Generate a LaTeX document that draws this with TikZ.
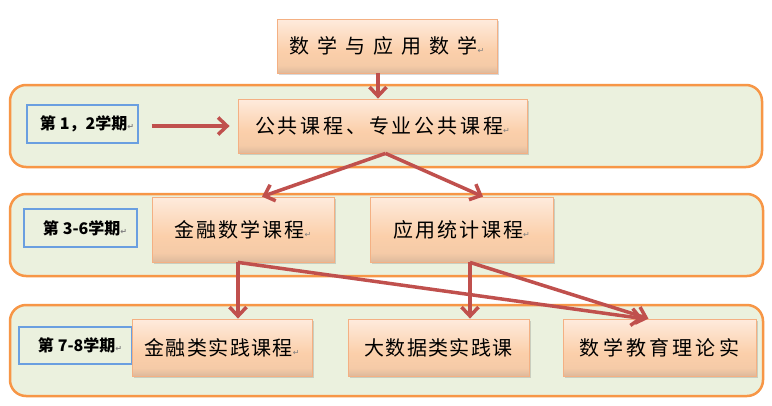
\documentclass[tikz,border=0pt]{standalone}
\usepackage{fontspec}
\setmainfont{Noto Sans CJK SC}
\newfontfamily\retfont{DejaVu Sans}
\usetikzlibrary{arrows.meta,shadows}
\definecolor{bandfill}{HTML}{EBF1DE}
\definecolor{bandline}{HTML}{F79646}
\definecolor{lblline}{HTML}{6A9FE0}
\definecolor{arr}{HTML}{C0504D}
\definecolor{ntop}{HTML}{FEEBDD}
\definecolor{nmid}{HTML}{FBCFAA}
\definecolor{nbot}{HTML}{DDB99C}
\definecolor{nline}{HTML}{F4B083}
\pgfdeclareverticalshading{nodegrad}{100bp}{color(0bp)=(nbot); color(25bp)=(nbot); color(32bp)=(nmid!80!nbot); color(45bp)=(nmid); color(75bp)=(ntop); color(100bp)=(ntop)}
\newcommand\retmark{{\retfont\fontsize{8}{8}\selectfont\textcolor{gray}{↵}}}
\newcommand\spaced[2]{{\addfontfeature{LetterSpace=#1}#2}}
\begin{document}
\begin{tikzpicture}[x=1pt,y=-1pt,
  band/.style={draw=bandline, line width=2.5pt, fill=bandfill, rounded corners=16pt},
  course/.style={draw=nline, line width=0.8pt, shading=nodegrad, inner sep=0pt,
    drop shadow={shadow xshift=1.5pt,shadow yshift=-1.5pt,opacity=0.25,fill=black!60},
    font=\fontsize{20}{24}\selectfont},
  lbl/.style={draw=lblline, line width=1.1pt, fill=bandfill, inner sep=0pt,
    font=\bfseries\fontsize{16}{18}\selectfont},
  link/.style={draw=arr, line width=3.5pt, -{Straight Barb[length=9pt,width=17pt]}}
]
\fill[white] (0,0) rectangle (772,405);
\useasboundingbox (0,0) rectangle (772,405);

% bands
\path[band] (10,85) rectangle (762,167);
\path[band] (10,194) rectangle (763,276);
\path[band] (10,305) rectangle (763,396);

% semester labels
\node[lbl, minimum width=111pt, minimum height=38pt] (l1) at (82.5,124) {\hspace{9pt}第\hspace{4pt}1，2学期\retmark};
\node[lbl, minimum width=113pt, minimum height=38pt] (l2) at (80.5,228) {\hspace{9pt}第\hspace{4pt}3-6学期\retmark};
\node[lbl, minimum width=113pt, minimum height=37pt] (l3) at (75.5,345.5) {\hspace{9pt}第\hspace{4pt}7-8学期\retmark};

% course nodes
\node[course, minimum width=220pt, minimum height=54pt] (top) at (387,46) {\spaced{40}{数学与应用数学}\retmark};
\node[course, minimum width=289pt, minimum height=54pt] (gong) at (382.5,126) {\spaced{14}{公共课程、专业公共课程}\retmark};
\node[course, minimum width=182pt, minimum height=65pt] (jrsx) at (243,229.5) {\spaced{10}{金融数学课程}\retmark};
\node[course, minimum width=183pt, minimum height=65pt] (yytj) at (461.5,229.5) {\spaced{10}{应用统计课程}\retmark};
\node[course, minimum width=180pt, minimum height=57pt] (jrl) at (222,347.5) {\spaced{7}{金融类实践课程}\retmark};
\node[course, minimum width=181pt, minimum height=57pt] (dsj) at (438.5,347.5) {\spaced{7}{大数据类实践课}};
\node[course, minimum width=193pt, minimum height=57pt] (sxjy) at (659.5,347.5) {\spaced{16}{数学教育理论实}};

% connectors
\draw[link] ([xshift=-9pt]top.south) -- ([xshift=-9pt]top.south |- gong.north);
\draw[link] ([xshift=13pt]l1.east |- gong.west) -- ([xshift=-8pt]gong.west);
\draw[link] ([xshift=3pt]gong.south) -- ([xshift=19pt]jrsx.north);
\draw[link] ([xshift=3pt]gong.south) -- ([xshift=21.5pt]yytj.north);
\draw[link] ([xshift=-5pt]jrsx.south) -- ([xshift=-5pt]jrsx.south |- jrl.north);
\draw[link] ([xshift=-5pt]jrsx.south) -- ([xshift=-16.5pt]sxjy.north);
\draw[link] ([xshift=8.5pt]yytj.south) -- ([xshift=8.5pt]yytj.south |- dsj.north);
\draw[link] ([xshift=8.5pt]yytj.south) -- ([xshift=-11pt]sxjy.north);
\end{tikzpicture}
\end{document}
